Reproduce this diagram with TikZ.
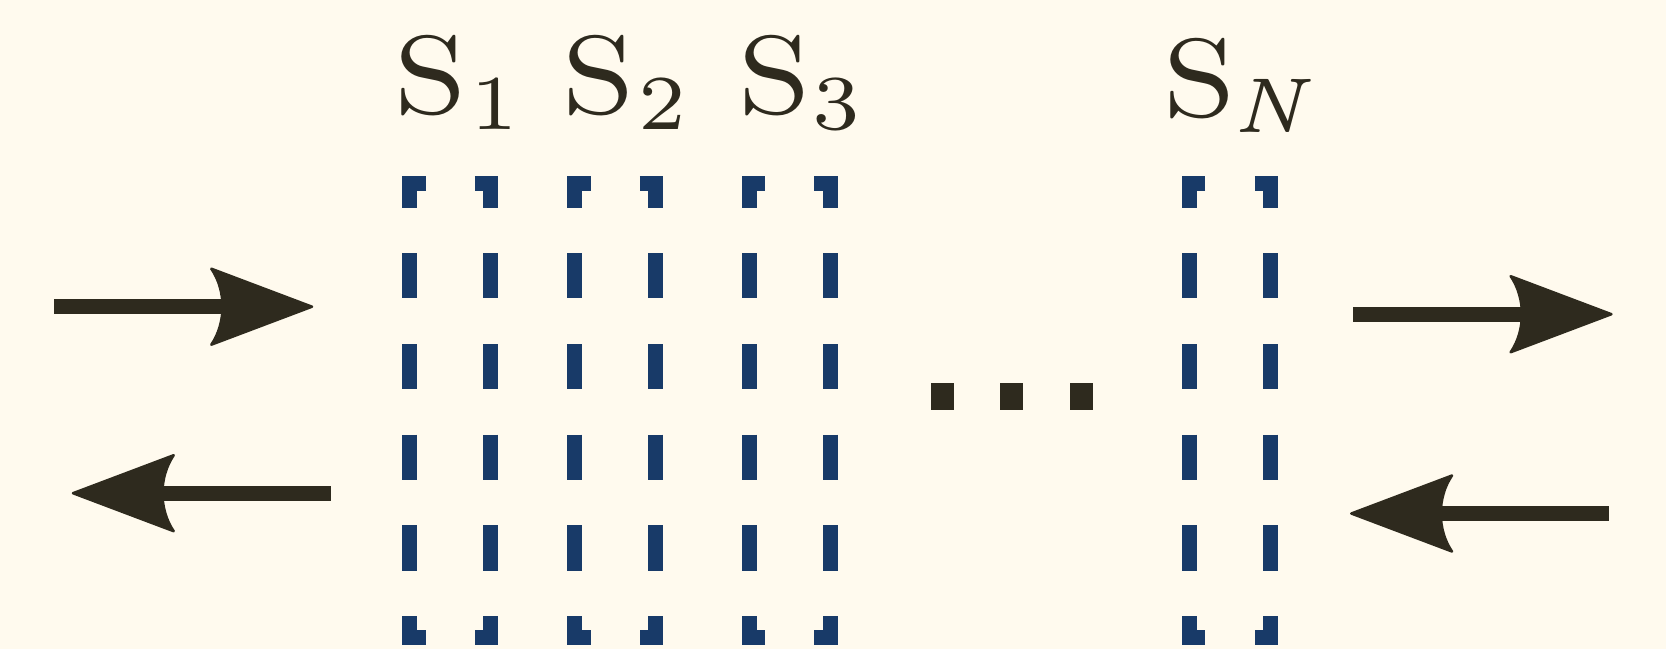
\documentclass[tikz,border=0pt]{standalone}
\usetikzlibrary{arrows.meta}
\definecolor{bg}{HTML}{FFFAEE}
\definecolor{slabblue}{HTML}{183A68}
\definecolor{inkc}{HTML}{2E2A1E}
\newcommand{\slablabel}[2][0.3pt]{\scalebox{13}[11.1]{\fontsize{10}{10}\selectfont S\kern#1\raisebox{-1.5pt}{\scalebox{0.92}[1]{\fontsize{7}{7}\selectfont #2}}}}
\pgfdeclarearrow{
  name = CurvedHead,
  setup code = {
    \pgfarrowssettipend{0pt}
    \pgfarrowssetbackend{-103pt}
    \pgfarrowssetlineend{-86pt}
  },
  drawing code = {
    \pgfsetlinewidth{2.5pt}
    \pgfsetroundjoin
    \pgfpathmoveto{\pgfpoint{-1.3pt}{0pt}}
    \pgfpathlineto{\pgfpoint{-102pt}{38pt}}
    \pgfpathcurveto{\pgfpoint{-87pt}{16pt}}{\pgfpoint{-87pt}{-16pt}}{\pgfpoint{-102pt}{-38pt}}
    \pgfpathclose
    \pgfusepathqfillstroke
  }
}
\begin{document}
\begin{tikzpicture}[x=1pt,y=-1pt,
  slab/.style={draw=slabblue, line width=15pt, line cap=butt, line join=miter},
  flow/.style={color=inkc, line width=15pt, -{CurvedHead}},
  lab/.style={text=inkc, inner sep=0pt, anchor=base west}]
\fill[bg] (0,0) rectangle (1666,649);
\useasboundingbox (0,0) rectangle (1666,649);
% slabs
\foreach \L/\R in {409.8/490.8, 574.8/655.8, 749/830, 1189.2/1270.8}{
  \draw[slab] (\L+15.9,183.5) -- (\L,183.5) -- (\L,207.7);
  \draw[slab] (\R-15.9,183.5) -- (\R,183.5) -- (\R,207.7);
  \draw[slab] (\L,616) -- (\L,637) -- (\L+15.9,637);
  \draw[slab] (\R,616) -- (\R,637) -- (\R-15.9,637);
  \foreach \a/\b in {253.3/298.3, 344/389.3, 434.7/480, 525.3/570.7}{
    \draw[slab] (\L,\a) -- (\L,\b);
    \draw[slab] (\R,\a) -- (\R,\b);
  }
}
% labels
\node[lab] (s1) at (394.5,113) {\slablabel{1}};
\node[lab] (s2) at (561.8,113) {\slablabel{2}};
\node[lab] (s3) at (738.5,113) {\slablabel[0.15pt]{3}};
\node[lab] (sn) at (1163.5,116) {\slablabel[-0.25pt]{\itshape N}};
% dots
\foreach \x in {931,1000,1070}{
  \fill[inkc] (\x,383) rectangle (\x+23,410);
}
% arrows
\coordinate (a1s) at (54,306.7);    \coordinate (a1e) at (313.3,306.7);
\coordinate (a2s) at (330.7,493.2); \coordinate (a2e) at (71.7,493.2);
\coordinate (a3s) at (1353.3,314.2); \coordinate (a3e) at (1612.7,314.2);
\coordinate (a4s) at (1608.7,513.5); \coordinate (a4e) at (1350,513.5);
\draw[flow] (a1s) -- (a1e);
\draw[flow] (a2s) -- (a2e);
\draw[flow] (a3s) -- (a3e);
\draw[flow] (a4s) -- (a4e);
\end{tikzpicture}
\end{document}
